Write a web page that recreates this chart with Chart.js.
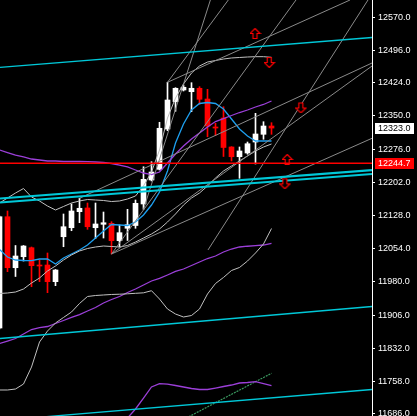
<!DOCTYPE html>
<html>
<head>
<meta charset="utf-8">
<script src="https://cdn.jsdelivr.net/npm/chart.js@4.4.1/dist/chart.umd.min.js"></script>
<style>
  html, body { margin: 0; padding: 0; background: #000; }
</style>
</head>
<body>
<canvas id="chart" width="417" height="416"></canvas>
<script>
// candles, oldest first (bar 0 is cut by the left edge)
const opens  = [11877.1, 12125.3, 12011.6, 12036.1, 12056.2, 12017.0, 12017.6, 11980.4, 12080.7, 12100.8,
                12136.5, 12144.8, 12100.8, 12108.4, 12110.6, 12071.8, 12099.5, 12105.7, 12153.7, 12207.2,
                12231.0, 12320.9, 12381.8, 12407.9, 12404.1, 12411.7, 12387.8, 12325.4, 12345.4, 12280.8,
                12259.1, 12267.4, 12291.9, 12309.1, 12327.6];
const highs  = [12127.0, 12138.1, 12061.1, 12061.1, 12057.8, 12028.8, 12044.4, 12007.6, 12131.4, 12153.7,
                12166.4, 12155.9, 12155.9, 12135.8, 12114.2, 12106.8, 12141.8, 12162.6, 12236.8, 12248.0,
                12335.9, 12425.1, 12413.0, 12419.0, 12424.2, 12415.3, 12409.4, 12333.6, 12370.6, 12281.5,
                12280.8, 12291.9, 12355.9, 12337.2, 12335.0];
const lows   = [11875.0, 12002.7, 11992.0, 12026.5, 11969.2, 11980.4, 11955.9, 11971.5, 12058.4, 12094.1,
                12112.0, 12097.2, 12076.7, 12077.8, 12042.2, 12057.8, 12072.3, 12099.5, 12141.8, 12205.0,
                12229.5, 12317.1, 12360.4, 12405.7, 12359.5, 12376.0, 12303.7, 12306.4, 12259.6, 12249.6,
                12211.0, 12264.7, 12242.9, 12298.0, 12309.1];
const closes = [12125.3, 12011.6, 12037.7, 12060.0, 12016.1, 12015.4, 11980.4, 12006.5, 12103.0, 12138.1,
                12144.1, 12103.0, 12109.1, 12111.9, 12071.8, 12089.7, 12107.5, 12155.2, 12208.7, 12225.0,
                12322.5, 12385.6, 12411.7, 12414.0, 12411.7, 12387.2, 12327.6, 12323.1, 12279.7, 12259.1,
                12271.9, 12288.1, 12309.8, 12327.6, 12323.0];

// indicators, one value per candle
const maBlue     = [12052.2, 12035.5, 12028.8, 12027.7, 12027.2, 12031.0, 12031.0, 12019.9, 12033.2, 12042.2,
                    12051.1, 12062.2, 12077.8, 12093.4, 12107.9, 12106.8, 12105.7, 12113.5, 12129.1, 12151.4,
                    12180.4, 12227.3, 12289.7, 12332.1, 12363.3, 12377.8, 12380.0, 12377.8, 12365.5, 12343.2,
                    12320.9, 12305.3, 12294.2, 12294.2, 12294.2];
const purpleHigh = [12274.1, 12268.5, 12262.9, 12258.5, 12254.0, 12251.8, 12249.6, 12249.6, 12248.4, 12248.4,
                    12248.4, 12248.0, 12247.3, 12246.2, 12244.0, 12240.6, 12236.2, 12229.5, 12222.8, 12219.4,
                    12225.0, 12245.1, 12265.2, 12283.0, 12298.6, 12312.0, 12325.4, 12337.6, 12344.3, 12351.0,
                    12357.7, 12363.3, 12370.0, 12375.6, 12383.4];
const bandUpper  = [12155.9, 12167.0, 12178.2, 12188.2, 12169.3, 12160.4, 12149.2, 12140.3, 12148.1, 12155.9,
                    12160.4, 12163.7, 12162.6, 12161.5, 12159.2, 12160.4, 12164.8, 12171.5, 12193.8, 12225.0,
                    12274.1, 12345.4, 12390.0, 12421.3, 12445.8, 12461.4, 12470.3, 12473.7, 12477.0, 12479.3,
                    12480.4, 12481.5, 12482.2, 12482.2, 12480.8];
const bandLower  = [11954.1, 11955.2, 11957.4, 11964.1, 11977.5, 11988.6, 12004.3, 12015.4, 12028.8, 12040.0,
                    12048.9, 12054.4, 12057.8, 12060.0, 12058.9, 12057.8, 12061.1, 12068.9, 12077.8, 12086.8,
                    12097.9, 12113.5, 12131.4, 12151.4, 12167.0, 12178.2, 12193.8, 12211.6, 12227.3, 12238.4,
                    12249.6, 12260.7, 12271.9, 12280.8, 12287.5];
const grayLow    = [11738.9, 11738.9, 11741.1, 11752.2, 11790.1, 11845.9, 11870.4, 11888.3, 11900.6, 11912.8,
                    11931.8, 11947.4, 11949.6, 11950.8, 11951.9, 11952.5, 11953.4, 11954.5, 11955.6, 11960.3,
                    11941.8, 11919.5, 11908.3, 11901.7, 11905.0, 11919.5, 11953.0, 11976.4, 11989.9, 12005.4,
                    12012.1, 12026.5, 12044.4, 12064.5, 12099.0];
const purpleMid  = [11842.6, 11848.1, 11853.7, 11863.7, 11873.8, 11878.2, 11880.5, 11887.2, 11893.9, 11900.6,
                    11907.2, 11915.0, 11922.8, 11932.9, 11940.7, 11947.4, 11956.3, 11964.1, 11973.1, 11982.0,
                    11987.6, 11995.3, 12003.2, 12008.7, 12016.5, 12024.3, 12032.1, 12037.7, 12046.6, 12053.3,
                    12057.8, 12059.5, 12060.7, 12062.2, 12066.0];
const purpleLow  = [null, null, null, null, null, null, null, null, null, null,
                    null, null, null, null, null, 11654.1, 11676.4, 11696.5, 11721.0, 11745.6,
                    11753.3, 11752.2, 11748.9, 11745.6, 11742.2, 11740.0, 11740.0, 11743.3, 11746.7, 11750.0,
                    11754.5, 11755.6, 11757.4, 11753.3, 11748.5];

// drawn objects: [bar index, price] end points
const gannA    = [[21, 12425.1], [28.6, 12608.6]];
const gannB    = [[18, 12141.8], [26.36, 12608.6]];
const gannC    = [[14, 12042.2], [37.06, 12608.6]];
const gannD    = [[26.06, 12051.1], [46.06, 12608.6]];
const gannE    = [[14, 12042.2], [46.5625, 12461.4]];
const forkTop  = [[21, 12425.1], [43.81, 12608.6]];
const forkMid  = [[10, 12166.4], [46.5625, 12468.1]];
const forkLow  = [[14, 12042.2], [46.5625, 12300.2]];
const cyanTop  = [[0.0625, 12458.5], [46.5625, 12525.0]];
const cyanPairA = [[0.0625, 12165.9], [46.5625, 12229.3]];
const cyanPairB = [[0.0625, 12157.0], [46.5625, 12220.6]];
const cyanMid  = [[0.0625, 11853.7], [46.5625, 11925.1]];
const cyanLow  = [[0.0625, 11670.8], [46.5625, 11740.0]];
const greenDots = [[22, 11663.7], [34, 11776.1]];
const upArrows   = [[32.0, 12532.8], [36.02, 12251.8]];
const downArrows = [[33.78, 12470.3], [37.73, 12368.9], [35.73, 12199.8]];

const redLevel = 12244.7;
const bidLevel = 12323.0;
const yTicks = [12570, 12496, 12424, 12350, 12276, 12202, 12128, 12054, 11980, 11906, 11832, 11758, 11686];
const yMin = 11680.9, yMax = 12608.6;
const xMin = 0.0625, xMax = 46.5625;

const series = arr => arr.map((v, i) => ({ x: i, y: v }));
const seg = pts => pts.map(p => ({ x: p[0], y: p[1] }));
const isUp = i => closes[i] >= opens[i];

function arrowImage(up) {
  const c = document.createElement('canvas');
  c.width = 12; c.height = 12;
  const g = c.getContext('2d');
  if (!up) { g.translate(0, 12); g.scale(1, -1); }
  g.beginPath();
  g.moveTo(5.5, 0.5);
  g.lineTo(10.5, 5.5);
  g.lineTo(7.5, 5.5);
  g.lineTo(7.5, 10.5);
  g.lineTo(3.5, 10.5);
  g.lineTo(3.5, 5.5);
  g.lineTo(0.5, 5.5);
  g.closePath();
  g.fillStyle = '#000';
  g.fill();
  g.strokeStyle = '#ff0000';
  g.lineWidth = 1.2;
  g.stroke();
  return c;
}

function line(data, color, width, extra) {
  return Object.assign({
    type: 'line', data: data, borderColor: color, borderWidth: width,
    pointRadius: 0, tension: 0, fill: false, order: 1
  }, extra || {});
}

const priceTags = {
  id: 'priceTags',
  afterDraw(chart) {
    const { ctx } = chart;
    const y = chart.scales.y;
    const tag = (v, bg, fg) => {
      const py = Math.round(y.getPixelForValue(v));
      ctx.save();
      ctx.fillStyle = bg;
      ctx.fillRect(y.left + 3, py - 5, 39, 11);
      ctx.fillStyle = fg;
      ctx.font = '9px "Liberation Sans", Arial, sans-serif';
      ctx.textBaseline = 'middle';
      ctx.textAlign = 'left';
      ctx.fillText(v.toFixed(1), y.left + 6, py + 0.5);
      ctx.restore();
    };
    tag(bidLevel, '#ffffff', '#000000');
    tag(redLevel, '#ff0000', '#ffffff');
  }
};

const grey = '#8a8a8a';
const silver = '#c0c0c0';
const cyan = '#00c8d8';
const purple = '#9b3fd8';

new Chart(document.getElementById('chart'), {
  type: 'line',
  data: {
    datasets: [
      // candles
      {
        type: 'bar', order: 10, grouped: false, barThickness: 1,
        data: opens.map((o, i) => ({ x: i, y: [lows[i], highs[i]] })),
        backgroundColor: ctx => isUp(ctx.dataIndex) ? '#ffffff' : '#ff0000',
        borderWidth: 0
      },
      {
        type: 'bar', order: 9, grouped: false, barThickness: 5, minBarLength: 1,
        data: opens.map((o, i) => ({ x: i, y: [o, closes[i]] })),
        backgroundColor: ctx => isUp(ctx.dataIndex) ? '#ffffff' : '#ff0000',
        borderWidth: 0
      },
      // channels
      line(seg(cyanTop), cyan, 1.3),
      line(seg(cyanMid), cyan, 1.3),
      line(seg(cyanLow), cyan, 1.3),
      line(seg(cyanPairA), cyan, 2.2),
      line(seg(cyanPairB), cyan, 2.2),
      // fan / fork lines
      line(seg(gannA), grey, 1),
      line(seg(gannB), grey, 1),
      line(seg(gannC), grey, 1),
      line(seg(gannD), grey, 1),
      line(seg(gannE), grey, 1),
      line(seg(forkTop), grey, 1),
      line(seg(forkMid), grey, 1),
      line(seg(forkLow), grey, 1),
      // indicators
      line(series(bandUpper), silver, 1),
      line(series(bandLower), silver, 1),
      line(series(grayLow), silver, 1),
      line(series(purpleHigh), purple, 1.3),
      line(series(purpleMid), purple, 1.3),
      line(series(purpleLow), purple, 1.3),
      line(seg(greenDots), '#3a9a60', 1.2, { borderDash: [2, 1] }),
      line(series(maBlue), '#1ea0f0', 1.3),
      // level
      line([{ x: xMin, y: redLevel }, { x: xMax, y: redLevel }], '#ff0000', 1.6, { order: 0 }),
      // arrows
      { type: 'line', showLine: false, order: 0, data: seg(upArrows),
        pointStyle: arrowImage(true), pointRadius: 6, pointHoverRadius: 6 },
      { type: 'line', showLine: false, order: 0, data: seg(downArrows),
        pointStyle: arrowImage(false), pointRadius: 6, pointHoverRadius: 6 }
    ]
  },
  options: {
    responsive: false,
    animation: false,
    devicePixelRatio: 1,
    layout: { padding: 0, autoPadding: false },
    plugins: { legend: { display: false }, tooltip: { enabled: false } },
    events: [],
    scales: {
      x: { type: 'linear', min: xMin, max: xMax, display: false, offset: false },
      y: {
        type: 'linear', position: 'right', min: yMin, max: yMax,
        afterBuildTicks: s => { s.ticks = yTicks.map(v => ({ value: v })); },
        afterFit: s => { s.width = 45; s.paddingTop = 0; s.paddingBottom = 0; },
        ticks: {
          color: '#ffffff', padding: 3, autoSkip: false,
          font: { family: '"Liberation Sans", Arial, sans-serif', size: 9 },
          callback: v => Number(v).toFixed(1)
        },
        grid: { display: true, drawOnChartArea: false, drawTicks: true, tickLength: 3, color: '#ffffff' },
        border: { display: true, color: '#ffffff', width: 1 }
      }
    }
  },
  plugins: [priceTags]
});
</script>
</body>
</html>
